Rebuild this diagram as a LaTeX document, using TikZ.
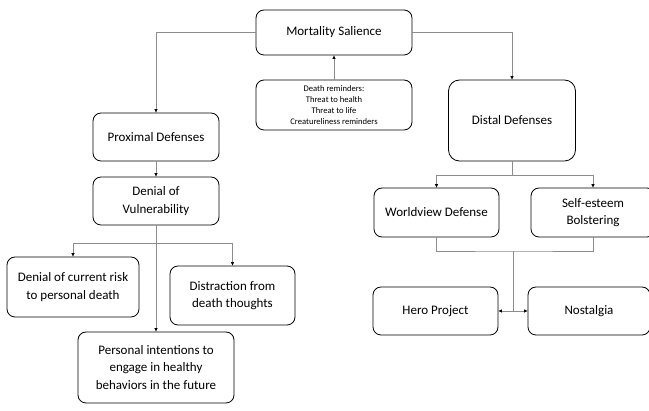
\documentclass[tikz,border=0pt]{standalone}
\usepackage{fontspec}
\setmainfont{Carlito}
\usetikzlibrary{arrows.meta}
\tikzset{
  box/.style={draw=black, line width=0.8pt, rounded corners=8pt, align=center, inner sep=2pt,
    font=\fontsize{13}{17.6}\selectfont},
  smallbox/.style={box, font=\fontsize{8.6}{10.8}\selectfont},
  conn/.style={draw=black!45, line width=0.7pt},
  arr/.style={conn, -{Triangle[length=3.5pt,width=3pt,fill=black,color=black]}},
}
\begin{document}
\begin{tikzpicture}[x=1pt,y=-1pt]
\useasboundingbox (0,0) rectangle (649,411);
\clip (0,0) rectangle (649,411);
\fill[white] (0,0) rectangle (649,411);
\node[box, minimum width=156pt, minimum height=45pt] (ms) at (334,32.5) {Mortality Salience};
\node[smallbox, minimum width=156pt, minimum height=50pt] (dr) at (334,105) {Death reminders:\\Threat to health\\Threat to life\\Creatureliness reminders};
\node[box, minimum width=126pt, minimum height=48pt] (prox) at (156,137) {Proximal Defenses};
\node[box, rounded corners=11pt, minimum width=127pt, minimum height=81pt] (distal) at (512,120.5) {Distal Defenses};
\node[box, minimum width=126pt, minimum height=48pt] (dov) at (156,201) {Denial of\\Vulnerability};
\node[box, minimum width=132pt, minimum height=60pt] (dcr) at (73,287) {Denial of current risk\\to personal death};
\node[box, minimum width=125pt, minimum height=59pt] (dist) at (232.5,295.5) {Distraction from\\death thoughts};
\node[box, minimum width=156pt, minimum height=71pt] (pi) at (156,367.5) {Personal intentions to\\engage in healthy\\behaviors in the future};
\node[box, minimum width=125pt, minimum height=49pt] (wv) at (436.5,212.5) {Worldview Defense};
\node[box, minimum width=124pt, minimum height=49pt] (se) at (593,212.5) {Self-esteem\\Bolstering};
\node[box, minimum width=125pt, minimum height=48pt] (hp) at (435.5,311) {Hero Project};
\node[box, minimum width=122pt, minimum height=48pt] (nos) at (589,311) {Nostalgia};
% connectors
\draw[arr] (ms.west) -| (prox.north);
\draw[arr] (ms.east) -| (distal.north);
\draw[arr] (dr.north) -- (ms.south);
\draw[arr] (prox.south) -- (dov.north);
\coordinate (j1) at (156,243);
\draw[conn] (dov.south) -- (j1);
\draw[arr] (j1) -| (dcr.north);
\draw[arr] (j1) -| (dist.north);
\draw[arr] (dov.south) -- (pi.north);
\coordinate (j2) at (512,175);
\draw[conn] (distal.south) -- (j2);
\draw[arr] (j2) -| (wv.north);
\draw[arr] (j2) -| (se.north);
\coordinate (j3) at (513,251);
\coordinate (j4) at (513,311);
\draw[conn] (wv.south) |- (j3) -| (se.south);
\draw[conn] (j3) -- (j4);
\draw[arr] (j4) -- (hp.east);
\draw[arr] (j4) -- (nos.west);
\end{tikzpicture}
\end{document}
